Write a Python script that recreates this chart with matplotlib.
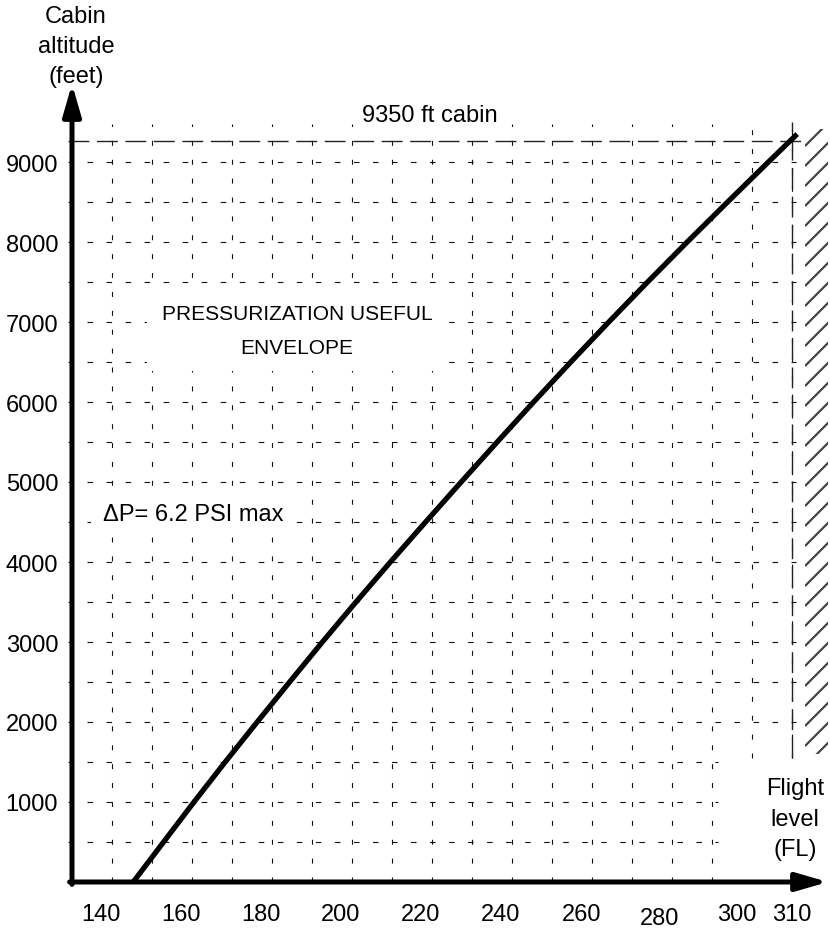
import numpy as np
import matplotlib
matplotlib.use('Agg')
import matplotlib.pyplot as plt
import matplotlib.transforms as mtransforms
from matplotlib.patches import Rectangle, FancyArrowPatch
from matplotlib.collections import LineCollection

plt.rcParams['font.family'] = ['Liberation Sans', 'DejaVu Sans']
plt.rcParams['lines.scale_dashes'] = False

#---------------- data ----------------
cabin_ft = [0, 500, 1000, 1500, 2000, 2500, 3000, 3500, 4000, 4500,
            5000, 5500, 6000, 6500, 7000, 7500, 8000, 8500, 9000, 9350]
flight_level = [145.3, 152.9, 160.5, 168.3, 176.3, 184.4, 192.6, 201.0, 209.6, 218.4,
                227.3, 236.3, 245.4, 254.7, 264.2, 273.9, 283.8, 293.9, 304.1, 311.3]

ytick_vals = [1000, 2000, 3000, 4000, 5000, 6000, 7000, 8000, 9000]
xtick_labels = ['140', '160', '180', '200', '220', '240', '260', '280', '300', '310']
# labels in the original sit a bit left of their grid lines
xtick_pos = [137.25, 157.25, 177.25, 197.25, 217.25, 237.25, 257.5, 277.0, 296.25, 310.0]

grid_fl = np.arange(140, 311, 10)
grid_ft = np.arange(500, 9001, 500)
fl_max = 310
cabin_line = 9260      # where the "9350 ft cabin" dashed line is drawn
hatch_bottom, hatch_top = 1600, 9410

#---------------- figure ----------------
W, H = 830, 929
fig = plt.figure(figsize=(W / 100, H / 100), dpi=100)
ax = fig.add_axes([72 / W, (H - 883) / H, (830 - 72) / W, (883 - 85) / H])
ax.set_xlim(130, 319.5)
ax.set_ylim(0, 9975)
for s in ax.spines.values():
    s.set_visible(False)
ax.patch.set_visible(False)

# dashed grid
for ft in grid_ft:
    x_end = 311 if ft >= 2000 else 291.5
    ax.plot([129, x_end], [ft, ft], color='#111', lw=0.8, dashes=(4, 9.7),
            clip_on=False, zorder=1)
for fl in grid_fl:
    y_bot = 0 if fl < 300 else 1550
    ax.plot([fl, fl], [y_bot, 9475], color='#111', lw=0.8, dashes=(3.6, 10),
            clip_on=False, zorder=1)

# long dashed limits
ax.plot([129, 313], [cabin_line, cabin_line], color='#222', lw=1.0, dashes=(15, 5.5),
        clip_on=False, zorder=1)
ax.plot([fl_max, fl_max], [1550, 9500], color='#222', lw=1.0, dashes=(15, 5.5),
        clip_on=False, zorder=1)

# hatched zone beyond FL310
clip = Rectangle((313.25, hatch_bottom), 319.0 - 313.25, hatch_top - hatch_bottom,
                 transform=ax.transData, fill=False, lw=0)
ax.add_patch(clip)
segs = []
for y0 in np.arange(hatch_bottom - 400, hatch_top + 250, 250):
    segs.append([(313.25, y0), (319.5, y0 + 312.5)])
lc = LineCollection(segs, colors='#444', linewidths=1.6, zorder=1)
ax.add_collection(lc)
lc.set_clip_path(clip)

# curve
ax.plot(flight_level, cabin_ft, color='k', lw=3.8, solid_capstyle='butt',
        solid_joinstyle='round', clip_on=False, zorder=3)

# axes arrows
xarr = FancyArrowPatch((129.4, 0), (319, 0), arrowstyle='-|>,head_length=19,head_width=5.5',
                       mutation_scale=1, lw=3.6, color='k', shrinkA=0, shrinkB=0, zorder=5)
yarr = FancyArrowPatch((130, -30), (130, 9975), arrowstyle='-|>,head_length=19,head_width=5.5',
                       mutation_scale=1, lw=3.6, color='k', shrinkA=0, shrinkB=0, zorder=5)
for a in (xarr, yarr):
    a.set_clip_on(False)
    ax.add_patch(a)

# ticks
ax.set_xticks(xtick_pos)
ax.set_xticklabels(xtick_labels)
ax.set_yticks(ytick_vals)
ax.set_yticklabels([str(v) for v in ytick_vals])
ax.tick_params(axis='x', length=0, pad=15, labelsize=17)
ax.tick_params(axis='y', length=0, pad=10, labelsize=17)
lab280 = ax.get_xticklabels()[7]
lab280.set_transform(lab280.get_transform() +
                     mtransforms.ScaledTranslation(0, -3 / 72, fig.dpi_scale_trans))

# texts
ax.text(131, 10450, 'Cabin\naltitude\n(feet)', ha='center', va='center', fontsize=17,
        linespacing=1.45, clip_on=False)
ax.text(219.5, 9590, '9350 ft cabin', ha='center', va='center', fontsize=17, zorder=2,
        bbox=dict(boxstyle='square,pad=0.35', fc='white', ec='none'))
ax.text(186.25, 6894, 'PRESSURIZATION USEFUL\nENVELOPE', ha='center', va='center',
        multialignment='center', fontsize=15, linespacing=1.95, zorder=2,
        bbox=dict(boxstyle='square,pad=0.7', fc='white', ec='none'))
ax.text(137.75, 4600, '\u0394P= 6.2 PSI max', ha='left', va='center', fontsize=17, zorder=2,
        bbox=dict(boxstyle='square,pad=0.5', fc='white', ec='none'))
ax.text(310.75, 790, 'Flight\nlevel\n(FL)', ha='center', va='center', fontsize=17,
        linespacing=1.5, zorder=2)

fig.savefig('out.png', dpi=100)
